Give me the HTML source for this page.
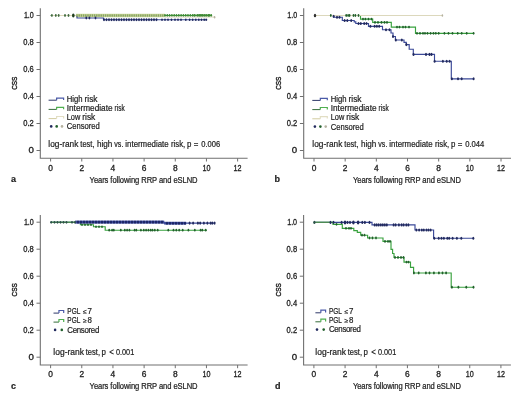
<!DOCTYPE html>
<html><head><meta charset="utf-8"><style>
svg{will-change:transform}
html,body{margin:0;padding:0;background:#fff;width:520px;height:397px;overflow:hidden}
svg text{font-family:"Liberation Sans", sans-serif;stroke:#1e1e1e;stroke-width:0.2px}
svg text.tk{stroke-width:0.3px}
svg text.cs{stroke-width:0.4px}
</style></head><body>
<svg width="520" height="397" viewBox="0 0 520 397" style="position:absolute;left:0;top:0">
<rect width="520" height="397" fill="#ffffff"/>
<g fill="#1e1e1e">
<path d="M40.30 8.20 V158.30 H247.60" fill="none" stroke="#707070" stroke-width="1.1"/>
<line x1="36.50" y1="15.50" x2="40.30" y2="15.50" stroke="#707070" stroke-width="1"/>
<text class="tk" x="23.90" y="18.10" font-size="8.4" textLength="9.9" lengthAdjust="spacingAndGlyphs">1.0</text>
<line x1="36.50" y1="42.50" x2="40.30" y2="42.50" stroke="#707070" stroke-width="1"/>
<text class="tk" x="23.30" y="45.10" font-size="8.4" textLength="10.5" lengthAdjust="spacingAndGlyphs">0.8</text>
<line x1="36.50" y1="69.50" x2="40.30" y2="69.50" stroke="#707070" stroke-width="1"/>
<text class="tk" x="23.30" y="72.10" font-size="8.4" textLength="10.5" lengthAdjust="spacingAndGlyphs">0.6</text>
<line x1="36.50" y1="96.50" x2="40.30" y2="96.50" stroke="#707070" stroke-width="1"/>
<text class="tk" x="23.30" y="99.10" font-size="8.4" textLength="10.5" lengthAdjust="spacingAndGlyphs">0.4</text>
<line x1="36.50" y1="123.50" x2="40.30" y2="123.50" stroke="#707070" stroke-width="1"/>
<text class="tk" x="23.30" y="126.10" font-size="8.4" textLength="10.5" lengthAdjust="spacingAndGlyphs">0.2</text>
<line x1="36.50" y1="150.50" x2="40.30" y2="150.50" stroke="#707070" stroke-width="1"/>
<text class="tk" x="28.40" y="153.10" font-size="8.4" textLength="5.4" lengthAdjust="spacingAndGlyphs">0</text>
<line x1="50.60" y1="158.30" x2="50.60" y2="161.50" stroke="#707070" stroke-width="1"/>
<text class="tk" x="50.60" y="170.70" text-anchor="middle" font-size="8.4">0</text>
<line x1="81.77" y1="158.30" x2="81.77" y2="161.50" stroke="#707070" stroke-width="1"/>
<text class="tk" x="81.77" y="170.70" text-anchor="middle" font-size="8.4">2</text>
<line x1="112.94" y1="158.30" x2="112.94" y2="161.50" stroke="#707070" stroke-width="1"/>
<text class="tk" x="112.94" y="170.70" text-anchor="middle" font-size="8.4">4</text>
<line x1="144.11" y1="158.30" x2="144.11" y2="161.50" stroke="#707070" stroke-width="1"/>
<text class="tk" x="144.11" y="170.70" text-anchor="middle" font-size="8.4">6</text>
<line x1="175.28" y1="158.30" x2="175.28" y2="161.50" stroke="#707070" stroke-width="1"/>
<text class="tk" x="175.28" y="170.70" text-anchor="middle" font-size="8.4">8</text>
<line x1="206.45" y1="158.30" x2="206.45" y2="161.50" stroke="#707070" stroke-width="1"/>
<text class="tk" x="202.45" y="170.70" font-size="8.4" textLength="8.0" lengthAdjust="spacingAndGlyphs">10</text>
<line x1="237.62" y1="158.30" x2="237.62" y2="161.50" stroke="#707070" stroke-width="1"/>
<text class="tk" x="233.62" y="170.70" font-size="8.4" textLength="8.0" lengthAdjust="spacingAndGlyphs">12</text>
<text transform="translate(17.40,89.80) rotate(-90)" class="cs" font-size="8.0" textLength="13.2" lengthAdjust="spacingAndGlyphs">CSS</text>
<text transform="translate(89.60,182.60) scale(1,1.2)" font-size="7.6" textLength="108" lengthAdjust="spacing">Years following RRP and eSLND</text>
<text x="11.00" y="182.30" font-size="9" font-weight="bold">a</text>
<path d="M303.70 8.20 V158.30 H511.00" fill="none" stroke="#707070" stroke-width="1.1"/>
<line x1="299.90" y1="15.50" x2="303.70" y2="15.50" stroke="#707070" stroke-width="1"/>
<text class="tk" x="287.30" y="18.10" font-size="8.4" textLength="9.9" lengthAdjust="spacingAndGlyphs">1.0</text>
<line x1="299.90" y1="42.50" x2="303.70" y2="42.50" stroke="#707070" stroke-width="1"/>
<text class="tk" x="286.70" y="45.10" font-size="8.4" textLength="10.5" lengthAdjust="spacingAndGlyphs">0.8</text>
<line x1="299.90" y1="69.50" x2="303.70" y2="69.50" stroke="#707070" stroke-width="1"/>
<text class="tk" x="286.70" y="72.10" font-size="8.4" textLength="10.5" lengthAdjust="spacingAndGlyphs">0.6</text>
<line x1="299.90" y1="96.50" x2="303.70" y2="96.50" stroke="#707070" stroke-width="1"/>
<text class="tk" x="286.70" y="99.10" font-size="8.4" textLength="10.5" lengthAdjust="spacingAndGlyphs">0.4</text>
<line x1="299.90" y1="123.50" x2="303.70" y2="123.50" stroke="#707070" stroke-width="1"/>
<text class="tk" x="286.70" y="126.10" font-size="8.4" textLength="10.5" lengthAdjust="spacingAndGlyphs">0.2</text>
<line x1="299.90" y1="150.50" x2="303.70" y2="150.50" stroke="#707070" stroke-width="1"/>
<text class="tk" x="291.80" y="153.10" font-size="8.4" textLength="5.4" lengthAdjust="spacingAndGlyphs">0</text>
<line x1="314.00" y1="158.30" x2="314.00" y2="161.50" stroke="#707070" stroke-width="1"/>
<text class="tk" x="314.00" y="170.70" text-anchor="middle" font-size="8.4">0</text>
<line x1="345.17" y1="158.30" x2="345.17" y2="161.50" stroke="#707070" stroke-width="1"/>
<text class="tk" x="345.17" y="170.70" text-anchor="middle" font-size="8.4">2</text>
<line x1="376.34" y1="158.30" x2="376.34" y2="161.50" stroke="#707070" stroke-width="1"/>
<text class="tk" x="376.34" y="170.70" text-anchor="middle" font-size="8.4">4</text>
<line x1="407.51" y1="158.30" x2="407.51" y2="161.50" stroke="#707070" stroke-width="1"/>
<text class="tk" x="407.51" y="170.70" text-anchor="middle" font-size="8.4">6</text>
<line x1="438.68" y1="158.30" x2="438.68" y2="161.50" stroke="#707070" stroke-width="1"/>
<text class="tk" x="438.68" y="170.70" text-anchor="middle" font-size="8.4">8</text>
<line x1="469.85" y1="158.30" x2="469.85" y2="161.50" stroke="#707070" stroke-width="1"/>
<text class="tk" x="465.85" y="170.70" font-size="8.4" textLength="8.0" lengthAdjust="spacingAndGlyphs">10</text>
<line x1="501.02" y1="158.30" x2="501.02" y2="161.50" stroke="#707070" stroke-width="1"/>
<text class="tk" x="497.02" y="170.70" font-size="8.4" textLength="8.0" lengthAdjust="spacingAndGlyphs">12</text>
<text transform="translate(280.80,89.80) rotate(-90)" class="cs" font-size="8.0" textLength="13.2" lengthAdjust="spacingAndGlyphs">CSS</text>
<text transform="translate(353.00,182.60) scale(1,1.2)" font-size="7.6" textLength="108" lengthAdjust="spacing">Years following RRP and eSLND</text>
<text x="274.40" y="182.30" font-size="9" font-weight="bold">b</text>
<path d="M40.30 214.90 V365.00 H247.60" fill="none" stroke="#707070" stroke-width="1.1"/>
<line x1="36.50" y1="222.20" x2="40.30" y2="222.20" stroke="#707070" stroke-width="1"/>
<text class="tk" x="23.90" y="224.80" font-size="8.4" textLength="9.9" lengthAdjust="spacingAndGlyphs">1.0</text>
<line x1="36.50" y1="249.20" x2="40.30" y2="249.20" stroke="#707070" stroke-width="1"/>
<text class="tk" x="23.30" y="251.80" font-size="8.4" textLength="10.5" lengthAdjust="spacingAndGlyphs">0.8</text>
<line x1="36.50" y1="276.20" x2="40.30" y2="276.20" stroke="#707070" stroke-width="1"/>
<text class="tk" x="23.30" y="278.80" font-size="8.4" textLength="10.5" lengthAdjust="spacingAndGlyphs">0.6</text>
<line x1="36.50" y1="303.20" x2="40.30" y2="303.20" stroke="#707070" stroke-width="1"/>
<text class="tk" x="23.30" y="305.80" font-size="8.4" textLength="10.5" lengthAdjust="spacingAndGlyphs">0.4</text>
<line x1="36.50" y1="330.20" x2="40.30" y2="330.20" stroke="#707070" stroke-width="1"/>
<text class="tk" x="23.30" y="332.80" font-size="8.4" textLength="10.5" lengthAdjust="spacingAndGlyphs">0.2</text>
<line x1="36.50" y1="357.20" x2="40.30" y2="357.20" stroke="#707070" stroke-width="1"/>
<text class="tk" x="28.40" y="359.80" font-size="8.4" textLength="5.4" lengthAdjust="spacingAndGlyphs">0</text>
<line x1="50.60" y1="365.00" x2="50.60" y2="368.20" stroke="#707070" stroke-width="1"/>
<text class="tk" x="50.60" y="377.40" text-anchor="middle" font-size="8.4">0</text>
<line x1="81.77" y1="365.00" x2="81.77" y2="368.20" stroke="#707070" stroke-width="1"/>
<text class="tk" x="81.77" y="377.40" text-anchor="middle" font-size="8.4">2</text>
<line x1="112.94" y1="365.00" x2="112.94" y2="368.20" stroke="#707070" stroke-width="1"/>
<text class="tk" x="112.94" y="377.40" text-anchor="middle" font-size="8.4">4</text>
<line x1="144.11" y1="365.00" x2="144.11" y2="368.20" stroke="#707070" stroke-width="1"/>
<text class="tk" x="144.11" y="377.40" text-anchor="middle" font-size="8.4">6</text>
<line x1="175.28" y1="365.00" x2="175.28" y2="368.20" stroke="#707070" stroke-width="1"/>
<text class="tk" x="175.28" y="377.40" text-anchor="middle" font-size="8.4">8</text>
<line x1="206.45" y1="365.00" x2="206.45" y2="368.20" stroke="#707070" stroke-width="1"/>
<text class="tk" x="202.45" y="377.40" font-size="8.4" textLength="8.0" lengthAdjust="spacingAndGlyphs">10</text>
<line x1="237.62" y1="365.00" x2="237.62" y2="368.20" stroke="#707070" stroke-width="1"/>
<text class="tk" x="233.62" y="377.40" font-size="8.4" textLength="8.0" lengthAdjust="spacingAndGlyphs">12</text>
<text transform="translate(17.40,296.50) rotate(-90)" class="cs" font-size="8.0" textLength="13.2" lengthAdjust="spacingAndGlyphs">CSS</text>
<text transform="translate(89.60,389.30) scale(1,1.2)" font-size="7.6" textLength="108" lengthAdjust="spacing">Years following RRP and eSLND</text>
<text x="11.00" y="389.00" font-size="9" font-weight="bold">c</text>
<path d="M303.60 214.90 V365.00 H510.90" fill="none" stroke="#707070" stroke-width="1.1"/>
<line x1="299.80" y1="222.20" x2="303.60" y2="222.20" stroke="#707070" stroke-width="1"/>
<text class="tk" x="287.20" y="224.80" font-size="8.4" textLength="9.9" lengthAdjust="spacingAndGlyphs">1.0</text>
<line x1="299.80" y1="249.20" x2="303.60" y2="249.20" stroke="#707070" stroke-width="1"/>
<text class="tk" x="286.60" y="251.80" font-size="8.4" textLength="10.5" lengthAdjust="spacingAndGlyphs">0.8</text>
<line x1="299.80" y1="276.20" x2="303.60" y2="276.20" stroke="#707070" stroke-width="1"/>
<text class="tk" x="286.60" y="278.80" font-size="8.4" textLength="10.5" lengthAdjust="spacingAndGlyphs">0.6</text>
<line x1="299.80" y1="303.20" x2="303.60" y2="303.20" stroke="#707070" stroke-width="1"/>
<text class="tk" x="286.60" y="305.80" font-size="8.4" textLength="10.5" lengthAdjust="spacingAndGlyphs">0.4</text>
<line x1="299.80" y1="330.20" x2="303.60" y2="330.20" stroke="#707070" stroke-width="1"/>
<text class="tk" x="286.60" y="332.80" font-size="8.4" textLength="10.5" lengthAdjust="spacingAndGlyphs">0.2</text>
<line x1="299.80" y1="357.20" x2="303.60" y2="357.20" stroke="#707070" stroke-width="1"/>
<text class="tk" x="291.70" y="359.80" font-size="8.4" textLength="5.4" lengthAdjust="spacingAndGlyphs">0</text>
<line x1="313.90" y1="365.00" x2="313.90" y2="368.20" stroke="#707070" stroke-width="1"/>
<text class="tk" x="313.90" y="377.40" text-anchor="middle" font-size="8.4">0</text>
<line x1="345.07" y1="365.00" x2="345.07" y2="368.20" stroke="#707070" stroke-width="1"/>
<text class="tk" x="345.07" y="377.40" text-anchor="middle" font-size="8.4">2</text>
<line x1="376.24" y1="365.00" x2="376.24" y2="368.20" stroke="#707070" stroke-width="1"/>
<text class="tk" x="376.24" y="377.40" text-anchor="middle" font-size="8.4">4</text>
<line x1="407.41" y1="365.00" x2="407.41" y2="368.20" stroke="#707070" stroke-width="1"/>
<text class="tk" x="407.41" y="377.40" text-anchor="middle" font-size="8.4">6</text>
<line x1="438.58" y1="365.00" x2="438.58" y2="368.20" stroke="#707070" stroke-width="1"/>
<text class="tk" x="438.58" y="377.40" text-anchor="middle" font-size="8.4">8</text>
<line x1="469.75" y1="365.00" x2="469.75" y2="368.20" stroke="#707070" stroke-width="1"/>
<text class="tk" x="465.75" y="377.40" font-size="8.4" textLength="8.0" lengthAdjust="spacingAndGlyphs">10</text>
<line x1="500.92" y1="365.00" x2="500.92" y2="368.20" stroke="#707070" stroke-width="1"/>
<text class="tk" x="496.92" y="377.40" font-size="8.4" textLength="8.0" lengthAdjust="spacingAndGlyphs">12</text>
<text transform="translate(280.70,296.50) rotate(-90)" class="cs" font-size="8.0" textLength="13.2" lengthAdjust="spacingAndGlyphs">CSS</text>
<text transform="translate(352.90,389.30) scale(1,1.2)" font-size="7.6" textLength="108" lengthAdjust="spacing">Years following RRP and eSLND</text>
<text x="275.10" y="389.00" font-size="9" font-weight="bold">d</text>
<path d="M48.60 100.20 H56.62" stroke="#2e3868" stroke-width="1" fill="none"/><path d="M56.62 100.20 V98.10 H63.60 V100.00" stroke="#4a5aa8" stroke-width="1.2" fill="none"/>
<text transform="translate(66.75,101.80) scale(1,1.05)" font-size="7.9" textLength="15.8" lengthAdjust="spacingAndGlyphs">High</text>
<text transform="translate(84.55,101.80) scale(1,1.05)" font-size="7.9" textLength="13.0" lengthAdjust="spacingAndGlyphs">risk</text>
<path d="M48.60 109.40 H56.62" stroke="#356b3a" stroke-width="1" fill="none"/><path d="M56.62 109.40 V107.30 H63.60 V109.20" stroke="#4fb04f" stroke-width="1.2" fill="none"/>
<text transform="translate(66.75,111.00) scale(1,1.05)" font-size="7.9" textLength="45.8" lengthAdjust="spacingAndGlyphs">Intermediate</text>
<text transform="translate(114.55,111.00) scale(1,1.05)" font-size="7.9" textLength="10.1" lengthAdjust="spacingAndGlyphs">risk</text>
<path d="M48.60 118.60 H56.62" stroke="#d2cca0" stroke-width="1" fill="none"/><path d="M56.62 118.60 V116.50 H63.60 V118.40" stroke="#e2dec4" stroke-width="1.2" fill="none"/>
<text transform="translate(66.75,120.20) scale(1,1.05)" font-size="7.9" textLength="13.5" lengthAdjust="spacingAndGlyphs">Low</text>
<text transform="translate(82.25,120.20) scale(1,1.05)" font-size="7.9" textLength="13.0" lengthAdjust="spacingAndGlyphs">risk</text>
<circle cx="51.20" cy="126.40" r="1.3" fill="#222a5e"/>
<circle cx="56.70" cy="126.40" r="1.3" fill="#22602c"/>
<circle cx="62.00" cy="126.40" r="1.3" fill="#b5b2a0"/>
<text transform="translate(66.75,129.40) scale(1,1.05)" font-size="7.9" textLength="33.1" lengthAdjust="spacingAndGlyphs">Censored</text>
<path d="M312.30 100.40 H320.32" stroke="#2e3868" stroke-width="1" fill="none"/><path d="M320.32 100.40 V98.30 H327.30 V100.20" stroke="#4a5aa8" stroke-width="1.2" fill="none"/>
<text transform="translate(330.75,102.00) scale(1,1.05)" font-size="7.9" textLength="15.8" lengthAdjust="spacingAndGlyphs">High</text>
<text transform="translate(348.55,102.00) scale(1,1.05)" font-size="7.9" textLength="13.0" lengthAdjust="spacingAndGlyphs">risk</text>
<path d="M312.30 109.60 H320.32" stroke="#356b3a" stroke-width="1" fill="none"/><path d="M320.32 109.60 V107.50 H327.30 V109.40" stroke="#4fb04f" stroke-width="1.2" fill="none"/>
<text transform="translate(330.75,111.20) scale(1,1.05)" font-size="7.9" textLength="45.8" lengthAdjust="spacingAndGlyphs">Intermediate</text>
<text transform="translate(378.55,111.20) scale(1,1.05)" font-size="7.9" textLength="10.1" lengthAdjust="spacingAndGlyphs">risk</text>
<path d="M312.30 118.80 H320.32" stroke="#d2cca0" stroke-width="1" fill="none"/><path d="M320.32 118.80 V116.70 H327.30 V118.60" stroke="#e2dec4" stroke-width="1.2" fill="none"/>
<text transform="translate(330.75,120.40) scale(1,1.05)" font-size="7.9" textLength="13.5" lengthAdjust="spacingAndGlyphs">Low</text>
<text transform="translate(346.25,120.40) scale(1,1.05)" font-size="7.9" textLength="13.0" lengthAdjust="spacingAndGlyphs">risk</text>
<circle cx="314.90" cy="126.60" r="1.3" fill="#222a5e"/>
<circle cx="320.40" cy="126.60" r="1.3" fill="#22602c"/>
<circle cx="325.70" cy="126.60" r="1.3" fill="#b5b2a0"/>
<text transform="translate(330.75,129.60) scale(1,1.05)" font-size="7.9" textLength="33.1" lengthAdjust="spacingAndGlyphs">Censored</text>
<text transform="translate(48.35,146.90) scale(1,1.05)" font-size="7.9" textLength="30.0" lengthAdjust="spacingAndGlyphs">log-rank</text>
<text transform="translate(80.35,146.90) scale(1,1.05)" font-size="7.9" textLength="14.1" lengthAdjust="spacingAndGlyphs">test,</text>
<text transform="translate(97.05,146.90) scale(1,1.05)" font-size="7.9" textLength="15.3" lengthAdjust="spacingAndGlyphs">high</text>
<text transform="translate(114.35,146.90) scale(1,1.05)" font-size="7.9" textLength="9.0" lengthAdjust="spacingAndGlyphs">vs.</text>
<text transform="translate(125.35,146.90) scale(1,1.05)" font-size="7.9" textLength="43.2" lengthAdjust="spacingAndGlyphs">intermediate</text>
<text transform="translate(170.95,146.90) scale(1,1.05)" font-size="7.9" textLength="14.3" lengthAdjust="spacingAndGlyphs">risk,</text>
<text transform="translate(187.05,146.90) scale(1,1.05)" font-size="7.9">p</text>
<text transform="translate(193.85,146.90) scale(1,1.05)" font-size="7.9">=</text>
<text transform="translate(201.25,146.90) scale(1,1.05)" font-size="7.9" textLength="18.9" lengthAdjust="spacingAndGlyphs">0.006</text>
<text transform="translate(312.35,146.90) scale(1,1.05)" font-size="7.9" textLength="30.0" lengthAdjust="spacingAndGlyphs">log-rank</text>
<text transform="translate(344.35,146.90) scale(1,1.05)" font-size="7.9" textLength="14.1" lengthAdjust="spacingAndGlyphs">test,</text>
<text transform="translate(361.05,146.90) scale(1,1.05)" font-size="7.9" textLength="15.3" lengthAdjust="spacingAndGlyphs">high</text>
<text transform="translate(378.35,146.90) scale(1,1.05)" font-size="7.9" textLength="9.0" lengthAdjust="spacingAndGlyphs">vs.</text>
<text transform="translate(389.35,146.90) scale(1,1.05)" font-size="7.9" textLength="43.2" lengthAdjust="spacingAndGlyphs">intermediate</text>
<text transform="translate(434.95,146.90) scale(1,1.05)" font-size="7.9" textLength="14.3" lengthAdjust="spacingAndGlyphs">risk,</text>
<text transform="translate(451.05,146.90) scale(1,1.05)" font-size="7.9">p</text>
<text transform="translate(457.85,146.90) scale(1,1.05)" font-size="7.9">=</text>
<text transform="translate(465.25,146.90) scale(1,1.05)" font-size="7.9" textLength="19.1" lengthAdjust="spacingAndGlyphs">0.044</text>
<path d="M53.50 313.10 H58.96" stroke="#2e3868" stroke-width="1" fill="none"/><path d="M58.96 313.10 V310.50 H63.70 V312.90" stroke="#4a5aa8" stroke-width="1.2" fill="none"/>
<text transform="translate(67.30,314.40) scale(1,1.05)" font-size="7.9" textLength="13.0" lengthAdjust="spacingAndGlyphs">PGL</text>
<text transform="translate(82.90,314.40) scale(1,1.0)" font-size="6.8">≤</text>
<text transform="translate(87.50,314.40) scale(1,1.05)" font-size="7.9">7</text>
<path d="M53.50 322.10 H58.96" stroke="#356b3a" stroke-width="1" fill="none"/><path d="M58.96 322.10 V319.50 H63.70 V321.90" stroke="#4fb04f" stroke-width="1.2" fill="none"/>
<text transform="translate(67.30,323.40) scale(1,1.05)" font-size="7.9" textLength="13.0" lengthAdjust="spacingAndGlyphs">PGL</text>
<text transform="translate(82.90,323.40) scale(1,1.0)" font-size="6.8">≥</text>
<text transform="translate(87.50,323.40) scale(1,1.05)" font-size="7.9">8</text>
<circle cx="55.10" cy="329.90" r="1.3" fill="#222a5e"/>
<circle cx="61.80" cy="329.90" r="1.3" fill="#22602c"/>
<text transform="translate(67.30,332.50) scale(1,1.05)" font-size="7.9" textLength="32.0" lengthAdjust="spacing">Censored</text>
<text transform="translate(53.35,355.20) scale(1,1.05)" font-size="7.9" textLength="30.6" lengthAdjust="spacingAndGlyphs">log-rank</text>
<text transform="translate(85.75,355.20) scale(1,1.05)" font-size="7.9" textLength="14.3" lengthAdjust="spacingAndGlyphs">test,</text>
<text transform="translate(101.55,355.20) scale(1,1.05)" font-size="7.9">p</text>
<text transform="translate(109.25,355.20) scale(1,1.05)" font-size="7.9">&lt;</text>
<text transform="translate(115.95,355.20) scale(1,1.05)" font-size="7.9" textLength="18.3" lengthAdjust="spacingAndGlyphs">0.001</text>
<path d="M315.40 312.80 H320.86" stroke="#2e3868" stroke-width="1" fill="none"/><path d="M320.86 312.80 V310.20 H325.60 V312.60" stroke="#4a5aa8" stroke-width="1.2" fill="none"/>
<text transform="translate(328.90,314.10) scale(1,1.05)" font-size="7.9" textLength="13.0" lengthAdjust="spacingAndGlyphs">PGL</text>
<text transform="translate(344.50,314.10) scale(1,1.0)" font-size="6.8">≤</text>
<text transform="translate(349.10,314.10) scale(1,1.05)" font-size="7.9">7</text>
<path d="M315.40 321.80 H320.86" stroke="#356b3a" stroke-width="1" fill="none"/><path d="M320.86 321.80 V319.20 H325.60 V321.60" stroke="#4fb04f" stroke-width="1.2" fill="none"/>
<text transform="translate(328.90,323.10) scale(1,1.05)" font-size="7.9" textLength="13.0" lengthAdjust="spacingAndGlyphs">PGL</text>
<text transform="translate(344.50,323.10) scale(1,1.0)" font-size="6.8">≥</text>
<text transform="translate(349.10,323.10) scale(1,1.05)" font-size="7.9">8</text>
<circle cx="317.00" cy="329.60" r="1.3" fill="#222a5e"/>
<circle cx="323.70" cy="329.60" r="1.3" fill="#22602c"/>
<text transform="translate(328.90,332.20) scale(1,1.05)" font-size="7.9" textLength="32.0" lengthAdjust="spacing">Censored</text>
<text transform="translate(315.35,355.20) scale(1,1.05)" font-size="7.9" textLength="30.6" lengthAdjust="spacingAndGlyphs">log-rank</text>
<text transform="translate(347.75,355.20) scale(1,1.05)" font-size="7.9" textLength="14.3" lengthAdjust="spacingAndGlyphs">test,</text>
<text transform="translate(363.55,355.20) scale(1,1.05)" font-size="7.9">p</text>
<text transform="translate(371.25,355.20) scale(1,1.05)" font-size="7.9">&lt;</text>
<text transform="translate(377.95,355.20) scale(1,1.05)" font-size="7.9" textLength="18.3" lengthAdjust="spacingAndGlyphs">0.001</text>
</g>
<rect x="76" y="13.8" width="89" height="3.4" fill="#c3d290" opacity="0.95"/>
<path d="M50.60 15.50 H77.00 V18.00 H103.50 V19.70 H207.30 V19.70" fill="none" stroke="#3a4898" stroke-width="1.15"/>
<path d="M50.60 15.50 H211.50 V15.50" fill="none" stroke="#39a23f" stroke-width="1.1"/>
<path d="M50.60 15.50 H165.00 V15.50" fill="none" stroke="#dcd8bc" stroke-width="1.2"/>
<path d="M165.00 17.00 H215.00 V17.00" fill="none" stroke="#dcd8bc" stroke-width="1.2"/>
<path d="M314.30 15.50 H333.50 V17.20 H342.30 V20.50 H354.20 V21.80 H355.80 V23.50 H368.50 V26.30 H382.50 V29.70 H391.00 V33.00 H393.00 V36.50 H395.40 V40.00 H404.00 V42.30 H406.30 V44.60 H409.20 V49.20 H413.30 V54.40 H434.50 V61.20 H451.30 V78.80 H473.60 V78.80" fill="none" stroke="#3a4898" stroke-width="1.15"/>
<path d="M314.30 15.50 H360.50 V19.10 H372.70 V22.40 H391.30 V27.10 H415.50 V33.30 H473.80 V33.30" fill="none" stroke="#39a23f" stroke-width="1.15"/>
<path d="M314.30 15.50 H442.40 V15.50" fill="none" stroke="#dcd8bc" stroke-width="1.2"/>
<path d="M50.60 222.30 H164.20 V223.10 H215.00 V223.10" fill="none" stroke="#3a4898" stroke-width="1.15"/>
<path d="M50.60 222.30 H80.40 V224.70 H93.50 V226.70 H105.20 V230.20 H207.00 V230.20" fill="none" stroke="#39a23f" stroke-width="1.15"/>
<rect x="75" y="220.6" width="89.2" height="3.0" fill="#3a4898"/>
<rect x="164.2" y="221.8" width="22" height="2.8" fill="#3a4898"/>
<path d="M50.6 222.3 H76" stroke="#4f8a55" stroke-width="1.1" fill="none"/>
<path d="M313.80 222.40 H372.00 V224.90 H415.00 V230.00 H433.60 V238.20 H473.60 V238.20" fill="none" stroke="#3a4898" stroke-width="1.15"/>
<path d="M313.80 222.40 H333.00 V224.30 H342.30 V228.30 H353.80 V230.60 H357.30 V232.30 H360.70 V235.20 H367.60 V238.00 H383.00 V241.40 H391.00 V249.40 H392.60 V253.50 H394.00 V257.50 H404.00 V262.10 H410.50 V267.30 H413.60 V273.00 H451.20 V287.20 H473.60 V287.20" fill="none" stroke="#39a23f" stroke-width="1.15"/>
<path d="M313.8 222.4 H331" stroke="#4f8a55" stroke-width="1.1" fill="none"/>
<ellipse cx="51.90" cy="15.50" rx="0.9" ry="1.40" fill="#3f6a3f"/><ellipse cx="55.80" cy="15.50" rx="0.9" ry="1.40" fill="#3f6a3f"/><ellipse cx="58.70" cy="15.50" rx="0.9" ry="1.40" fill="#3f6a3f"/><ellipse cx="65.00" cy="15.50" rx="0.9" ry="1.40" fill="#3f6a3f"/><ellipse cx="68.50" cy="15.50" rx="0.9" ry="1.40" fill="#3f6a3f"/>
<ellipse cx="73.30" cy="15.50" rx="1.3" ry="2.02" fill="#1e3d1e"/>
<ellipse cx="77.00" cy="15.50" rx="0.8" ry="1.24" fill="#86a55e"/><ellipse cx="79.20" cy="15.50" rx="0.8" ry="1.24" fill="#86a55e"/><ellipse cx="81.40" cy="15.50" rx="0.8" ry="1.24" fill="#86a55e"/><ellipse cx="83.60" cy="15.50" rx="0.8" ry="1.24" fill="#86a55e"/><ellipse cx="85.80" cy="15.50" rx="0.8" ry="1.24" fill="#86a55e"/><ellipse cx="88.00" cy="15.50" rx="0.8" ry="1.24" fill="#86a55e"/><ellipse cx="90.20" cy="15.50" rx="0.8" ry="1.24" fill="#86a55e"/><ellipse cx="92.40" cy="15.50" rx="0.8" ry="1.24" fill="#86a55e"/><ellipse cx="94.60" cy="15.50" rx="0.8" ry="1.24" fill="#86a55e"/><ellipse cx="96.80" cy="15.50" rx="0.8" ry="1.24" fill="#86a55e"/><ellipse cx="99.00" cy="15.50" rx="0.8" ry="1.24" fill="#86a55e"/><ellipse cx="101.20" cy="15.50" rx="0.8" ry="1.24" fill="#86a55e"/><ellipse cx="103.40" cy="15.50" rx="0.8" ry="1.24" fill="#86a55e"/><ellipse cx="105.60" cy="15.50" rx="0.8" ry="1.24" fill="#86a55e"/><ellipse cx="107.80" cy="15.50" rx="0.8" ry="1.24" fill="#86a55e"/><ellipse cx="110.00" cy="15.50" rx="0.8" ry="1.24" fill="#86a55e"/><ellipse cx="112.20" cy="15.50" rx="0.8" ry="1.24" fill="#86a55e"/><ellipse cx="114.40" cy="15.50" rx="0.8" ry="1.24" fill="#86a55e"/><ellipse cx="116.60" cy="15.50" rx="0.8" ry="1.24" fill="#86a55e"/><ellipse cx="118.80" cy="15.50" rx="0.8" ry="1.24" fill="#86a55e"/><ellipse cx="121.00" cy="15.50" rx="0.8" ry="1.24" fill="#86a55e"/><ellipse cx="123.20" cy="15.50" rx="0.8" ry="1.24" fill="#86a55e"/><ellipse cx="125.40" cy="15.50" rx="0.8" ry="1.24" fill="#86a55e"/><ellipse cx="127.60" cy="15.50" rx="0.8" ry="1.24" fill="#86a55e"/><ellipse cx="129.80" cy="15.50" rx="0.8" ry="1.24" fill="#86a55e"/><ellipse cx="132.00" cy="15.50" rx="0.8" ry="1.24" fill="#86a55e"/><ellipse cx="134.20" cy="15.50" rx="0.8" ry="1.24" fill="#86a55e"/><ellipse cx="136.40" cy="15.50" rx="0.8" ry="1.24" fill="#86a55e"/><ellipse cx="138.60" cy="15.50" rx="0.8" ry="1.24" fill="#86a55e"/><ellipse cx="140.80" cy="15.50" rx="0.8" ry="1.24" fill="#86a55e"/><ellipse cx="143.00" cy="15.50" rx="0.8" ry="1.24" fill="#86a55e"/><ellipse cx="145.20" cy="15.50" rx="0.8" ry="1.24" fill="#86a55e"/><ellipse cx="147.40" cy="15.50" rx="0.8" ry="1.24" fill="#86a55e"/><ellipse cx="149.60" cy="15.50" rx="0.8" ry="1.24" fill="#86a55e"/><ellipse cx="151.80" cy="15.50" rx="0.8" ry="1.24" fill="#86a55e"/><ellipse cx="154.00" cy="15.50" rx="0.8" ry="1.24" fill="#86a55e"/><ellipse cx="156.20" cy="15.50" rx="0.8" ry="1.24" fill="#86a55e"/><ellipse cx="158.40" cy="15.50" rx="0.8" ry="1.24" fill="#86a55e"/><ellipse cx="160.60" cy="15.50" rx="0.8" ry="1.24" fill="#86a55e"/><ellipse cx="162.80" cy="15.50" rx="0.8" ry="1.24" fill="#86a55e"/>
<ellipse cx="165.00" cy="15.30" rx="0.9" ry="1.40" fill="#3f8a35"/><ellipse cx="167.30" cy="15.30" rx="0.9" ry="1.40" fill="#3f8a35"/><ellipse cx="169.60" cy="15.30" rx="0.9" ry="1.40" fill="#3f8a35"/><ellipse cx="171.90" cy="15.30" rx="0.9" ry="1.40" fill="#3f8a35"/><ellipse cx="174.20" cy="15.30" rx="0.9" ry="1.40" fill="#3f8a35"/><ellipse cx="176.50" cy="15.30" rx="0.9" ry="1.40" fill="#3f8a35"/><ellipse cx="178.80" cy="15.30" rx="0.9" ry="1.40" fill="#3f8a35"/><ellipse cx="181.10" cy="15.30" rx="0.9" ry="1.40" fill="#3f8a35"/><ellipse cx="183.40" cy="15.30" rx="0.9" ry="1.40" fill="#3f8a35"/><ellipse cx="185.70" cy="15.30" rx="0.9" ry="1.40" fill="#3f8a35"/><ellipse cx="188.00" cy="15.30" rx="0.9" ry="1.40" fill="#3f8a35"/><ellipse cx="190.30" cy="15.30" rx="0.9" ry="1.40" fill="#3f8a35"/><ellipse cx="192.60" cy="15.30" rx="0.9" ry="1.40" fill="#3f8a35"/><ellipse cx="194.90" cy="15.30" rx="0.9" ry="1.40" fill="#3f8a35"/><ellipse cx="197.20" cy="15.30" rx="0.9" ry="1.40" fill="#3f8a35"/><ellipse cx="199.50" cy="15.30" rx="0.9" ry="1.40" fill="#3f8a35"/><ellipse cx="201.80" cy="15.30" rx="0.9" ry="1.40" fill="#3f8a35"/><ellipse cx="204.10" cy="15.30" rx="0.9" ry="1.40" fill="#3f8a35"/><ellipse cx="206.40" cy="15.30" rx="0.9" ry="1.40" fill="#3f8a35"/><ellipse cx="208.70" cy="15.30" rx="0.9" ry="1.40" fill="#3f8a35"/><ellipse cx="194.20" cy="15.30" rx="0.9" ry="1.40" fill="#3f8a35"/><ellipse cx="198.10" cy="15.30" rx="0.9" ry="1.40" fill="#3f8a35"/><ellipse cx="200.40" cy="15.30" rx="0.9" ry="1.40" fill="#3f8a35"/><ellipse cx="202.70" cy="15.30" rx="0.9" ry="1.40" fill="#3f8a35"/><ellipse cx="205.00" cy="15.30" rx="0.9" ry="1.40" fill="#3f8a35"/><ellipse cx="208.10" cy="15.30" rx="0.9" ry="1.40" fill="#3f8a35"/><ellipse cx="209.60" cy="15.30" rx="0.9" ry="1.40" fill="#3f8a35"/><ellipse cx="211.20" cy="15.30" rx="0.9" ry="1.40" fill="#3f8a35"/>
<ellipse cx="214.60" cy="17.30" rx="0.8" ry="1.24" fill="#b5b2a0"/>
<ellipse cx="86.30" cy="18.00" rx="0.9" ry="1.40" fill="#222a5e"/><ellipse cx="89.40" cy="18.00" rx="0.9" ry="1.40" fill="#222a5e"/><ellipse cx="95.50" cy="18.00" rx="0.9" ry="1.40" fill="#222a5e"/>
<ellipse cx="104.00" cy="19.70" rx="0.95" ry="1.47" fill="#222a5e"/><ellipse cx="106.50" cy="19.70" rx="0.95" ry="1.47" fill="#222a5e"/><ellipse cx="109.00" cy="19.70" rx="0.95" ry="1.47" fill="#222a5e"/><ellipse cx="111.50" cy="19.70" rx="0.95" ry="1.47" fill="#222a5e"/><ellipse cx="114.00" cy="19.70" rx="0.95" ry="1.47" fill="#222a5e"/><ellipse cx="116.50" cy="19.70" rx="0.95" ry="1.47" fill="#222a5e"/><ellipse cx="119.00" cy="19.70" rx="0.95" ry="1.47" fill="#222a5e"/><ellipse cx="121.50" cy="19.70" rx="0.95" ry="1.47" fill="#222a5e"/><ellipse cx="124.00" cy="19.70" rx="0.95" ry="1.47" fill="#222a5e"/><ellipse cx="126.50" cy="19.70" rx="0.95" ry="1.47" fill="#222a5e"/><ellipse cx="129.00" cy="19.70" rx="0.95" ry="1.47" fill="#222a5e"/><ellipse cx="131.50" cy="19.70" rx="0.95" ry="1.47" fill="#222a5e"/><ellipse cx="134.00" cy="19.70" rx="0.95" ry="1.47" fill="#222a5e"/><ellipse cx="136.50" cy="19.70" rx="0.95" ry="1.47" fill="#222a5e"/><ellipse cx="139.00" cy="19.70" rx="0.95" ry="1.47" fill="#222a5e"/><ellipse cx="141.50" cy="19.70" rx="0.95" ry="1.47" fill="#222a5e"/><ellipse cx="144.00" cy="19.70" rx="0.95" ry="1.47" fill="#222a5e"/><ellipse cx="146.50" cy="19.70" rx="0.95" ry="1.47" fill="#222a5e"/><ellipse cx="149.00" cy="19.70" rx="0.95" ry="1.47" fill="#222a5e"/><ellipse cx="151.50" cy="19.70" rx="0.95" ry="1.47" fill="#222a5e"/><ellipse cx="154.00" cy="19.70" rx="0.95" ry="1.47" fill="#222a5e"/><ellipse cx="156.50" cy="19.70" rx="0.95" ry="1.47" fill="#222a5e"/>
<ellipse cx="162.00" cy="19.70" rx="0.85" ry="1.32" fill="#222a5e"/><ellipse cx="165.00" cy="19.70" rx="0.85" ry="1.32" fill="#222a5e"/><ellipse cx="168.00" cy="19.70" rx="0.85" ry="1.32" fill="#222a5e"/><ellipse cx="171.50" cy="19.70" rx="0.85" ry="1.32" fill="#222a5e"/><ellipse cx="175.00" cy="19.70" rx="0.85" ry="1.32" fill="#222a5e"/><ellipse cx="178.00" cy="19.70" rx="0.85" ry="1.32" fill="#222a5e"/><ellipse cx="181.00" cy="19.70" rx="0.85" ry="1.32" fill="#222a5e"/><ellipse cx="185.80" cy="19.70" rx="0.85" ry="1.32" fill="#222a5e"/><ellipse cx="189.60" cy="19.70" rx="0.85" ry="1.32" fill="#222a5e"/><ellipse cx="192.70" cy="19.70" rx="0.85" ry="1.32" fill="#222a5e"/><ellipse cx="195.80" cy="19.70" rx="0.85" ry="1.32" fill="#222a5e"/><ellipse cx="198.80" cy="19.70" rx="0.85" ry="1.32" fill="#222a5e"/><ellipse cx="201.50" cy="19.70" rx="0.85" ry="1.32" fill="#222a5e"/><ellipse cx="204.20" cy="19.70" rx="0.85" ry="1.32" fill="#222a5e"/><ellipse cx="206.20" cy="19.70" rx="0.85" ry="1.32" fill="#222a5e"/>
<ellipse cx="315.00" cy="15.50" rx="1.2" ry="1.86" fill="#333"/>
<ellipse cx="330.80" cy="15.50" rx="0.9" ry="1.40" fill="#22602c"/><ellipse cx="346.20" cy="15.50" rx="0.9" ry="1.40" fill="#22602c"/><ellipse cx="348.10" cy="15.50" rx="0.9" ry="1.40" fill="#22602c"/><ellipse cx="349.60" cy="15.50" rx="0.9" ry="1.40" fill="#22602c"/><ellipse cx="353.50" cy="15.50" rx="0.9" ry="1.40" fill="#22602c"/><ellipse cx="355.40" cy="15.50" rx="0.9" ry="1.40" fill="#22602c"/><ellipse cx="358.50" cy="15.50" rx="0.9" ry="1.40" fill="#22602c"/>
<ellipse cx="363.00" cy="19.10" rx="0.9" ry="1.40" fill="#22602c"/><ellipse cx="365.40" cy="19.10" rx="0.9" ry="1.40" fill="#22602c"/><ellipse cx="368.50" cy="19.10" rx="0.9" ry="1.40" fill="#22602c"/><ellipse cx="371.50" cy="19.10" rx="0.9" ry="1.40" fill="#22602c"/>
<ellipse cx="375.00" cy="22.40" rx="0.9" ry="1.40" fill="#22602c"/><ellipse cx="378.00" cy="22.40" rx="0.9" ry="1.40" fill="#22602c"/><ellipse cx="381.50" cy="22.40" rx="0.9" ry="1.40" fill="#22602c"/><ellipse cx="384.50" cy="22.40" rx="0.9" ry="1.40" fill="#22602c"/><ellipse cx="387.00" cy="22.40" rx="0.9" ry="1.40" fill="#22602c"/>
<ellipse cx="397.00" cy="27.10" rx="0.9" ry="1.40" fill="#22602c"/><ellipse cx="399.50" cy="27.10" rx="0.9" ry="1.40" fill="#22602c"/><ellipse cx="403.00" cy="27.10" rx="0.9" ry="1.40" fill="#22602c"/><ellipse cx="405.50" cy="27.10" rx="0.9" ry="1.40" fill="#22602c"/><ellipse cx="409.00" cy="27.10" rx="0.9" ry="1.40" fill="#22602c"/>
<ellipse cx="417.00" cy="33.30" rx="0.9" ry="1.40" fill="#22602c"/><ellipse cx="420.00" cy="33.30" rx="0.9" ry="1.40" fill="#22602c"/><ellipse cx="423.00" cy="33.30" rx="0.9" ry="1.40" fill="#22602c"/><ellipse cx="425.00" cy="33.30" rx="0.9" ry="1.40" fill="#22602c"/><ellipse cx="427.50" cy="33.30" rx="0.9" ry="1.40" fill="#22602c"/><ellipse cx="430.60" cy="33.30" rx="0.9" ry="1.40" fill="#22602c"/><ellipse cx="433.50" cy="33.30" rx="0.9" ry="1.40" fill="#22602c"/><ellipse cx="435.80" cy="33.30" rx="0.9" ry="1.40" fill="#22602c"/><ellipse cx="438.70" cy="33.30" rx="0.9" ry="1.40" fill="#22602c"/><ellipse cx="444.40" cy="33.30" rx="0.9" ry="1.40" fill="#22602c"/><ellipse cx="448.50" cy="33.30" rx="0.9" ry="1.40" fill="#22602c"/><ellipse cx="452.50" cy="33.30" rx="0.9" ry="1.40" fill="#22602c"/><ellipse cx="457.70" cy="33.30" rx="0.9" ry="1.40" fill="#22602c"/><ellipse cx="461.70" cy="33.30" rx="0.9" ry="1.40" fill="#22602c"/><ellipse cx="466.70" cy="33.30" rx="0.9" ry="1.40" fill="#22602c"/><ellipse cx="473.60" cy="33.30" rx="0.9" ry="1.40" fill="#22602c"/>
<ellipse cx="333.70" cy="16.30" rx="1.0" ry="1.55" fill="#222a5e"/>
<ellipse cx="337.00" cy="17.20" rx="1.0" ry="1.55" fill="#222a5e"/><ellipse cx="339.50" cy="17.20" rx="1.0" ry="1.55" fill="#222a5e"/>
<ellipse cx="344.60" cy="20.50" rx="1.0" ry="1.55" fill="#222a5e"/><ellipse cx="347.30" cy="20.50" rx="1.0" ry="1.55" fill="#222a5e"/><ellipse cx="351.20" cy="20.50" rx="1.0" ry="1.55" fill="#222a5e"/>
<ellipse cx="358.50" cy="23.50" rx="1.0" ry="1.55" fill="#222a5e"/><ellipse cx="360.80" cy="23.50" rx="1.0" ry="1.55" fill="#222a5e"/><ellipse cx="364.20" cy="23.50" rx="1.0" ry="1.55" fill="#222a5e"/><ellipse cx="366.50" cy="23.50" rx="1.0" ry="1.55" fill="#222a5e"/>
<ellipse cx="370.40" cy="26.30" rx="1.0" ry="1.55" fill="#222a5e"/><ellipse cx="374.60" cy="26.30" rx="1.0" ry="1.55" fill="#222a5e"/><ellipse cx="376.90" cy="26.30" rx="1.0" ry="1.55" fill="#222a5e"/><ellipse cx="379.20" cy="26.30" rx="1.0" ry="1.55" fill="#222a5e"/>
<ellipse cx="386.00" cy="29.70" rx="1.0" ry="1.55" fill="#222a5e"/><ellipse cx="389.50" cy="29.70" rx="1.0" ry="1.55" fill="#222a5e"/>
<ellipse cx="393.00" cy="36.50" rx="1.0" ry="1.55" fill="#222a5e"/>
<ellipse cx="395.80" cy="40.00" rx="1.0" ry="1.55" fill="#222a5e"/><ellipse cx="401.80" cy="40.00" rx="1.0" ry="1.55" fill="#222a5e"/>
<ellipse cx="406.30" cy="44.60" rx="1.0" ry="1.55" fill="#222a5e"/>
<ellipse cx="413.50" cy="54.40" rx="1.0" ry="1.55" fill="#222a5e"/><ellipse cx="426.00" cy="54.40" rx="1.0" ry="1.55" fill="#222a5e"/><ellipse cx="429.50" cy="54.40" rx="1.0" ry="1.55" fill="#222a5e"/><ellipse cx="431.50" cy="54.40" rx="1.0" ry="1.55" fill="#222a5e"/>
<ellipse cx="434.60" cy="61.20" rx="1.0" ry="1.55" fill="#222a5e"/><ellipse cx="442.90" cy="61.20" rx="1.0" ry="1.55" fill="#222a5e"/><ellipse cx="446.70" cy="61.20" rx="1.0" ry="1.55" fill="#222a5e"/><ellipse cx="449.60" cy="61.20" rx="1.0" ry="1.55" fill="#222a5e"/>
<ellipse cx="451.90" cy="78.80" rx="1.0" ry="1.55" fill="#222a5e"/><ellipse cx="458.00" cy="78.80" rx="1.0" ry="1.55" fill="#222a5e"/><ellipse cx="461.70" cy="78.80" rx="1.0" ry="1.55" fill="#222a5e"/><ellipse cx="473.60" cy="78.80" rx="1.0" ry="1.55" fill="#222a5e"/>
<ellipse cx="442.40" cy="15.50" rx="0.8" ry="1.24" fill="#b5b2a0"/>
<ellipse cx="51.20" cy="222.30" rx="0.9" ry="1.40" fill="#2d4f4a"/><ellipse cx="54.50" cy="222.30" rx="0.9" ry="1.40" fill="#2d4f4a"/><ellipse cx="57.50" cy="222.30" rx="0.9" ry="1.40" fill="#2d4f4a"/><ellipse cx="60.50" cy="222.30" rx="0.9" ry="1.40" fill="#2d4f4a"/><ellipse cx="63.50" cy="222.30" rx="0.9" ry="1.40" fill="#2d4f4a"/><ellipse cx="66.50" cy="222.30" rx="0.9" ry="1.40" fill="#2d4f4a"/><ellipse cx="72.00" cy="222.30" rx="0.9" ry="1.40" fill="#2d4f4a"/><ellipse cx="75.00" cy="222.30" rx="0.9" ry="1.40" fill="#2d4f4a"/>
<ellipse cx="82.00" cy="224.70" rx="0.85" ry="1.32" fill="#22602c"/><ellipse cx="85.00" cy="224.70" rx="0.85" ry="1.32" fill="#22602c"/><ellipse cx="88.00" cy="224.70" rx="0.85" ry="1.32" fill="#22602c"/><ellipse cx="91.00" cy="224.70" rx="0.85" ry="1.32" fill="#22602c"/>
<ellipse cx="96.00" cy="226.70" rx="0.85" ry="1.32" fill="#22602c"/><ellipse cx="99.00" cy="226.70" rx="0.85" ry="1.32" fill="#22602c"/><ellipse cx="102.00" cy="226.70" rx="0.85" ry="1.32" fill="#22602c"/>
<ellipse cx="109.20" cy="230.20" rx="0.9" ry="1.40" fill="#22602c"/><ellipse cx="112.10" cy="230.20" rx="0.9" ry="1.40" fill="#22602c"/><ellipse cx="113.80" cy="230.20" rx="0.9" ry="1.40" fill="#22602c"/><ellipse cx="120.80" cy="230.20" rx="0.9" ry="1.40" fill="#22602c"/><ellipse cx="124.80" cy="230.20" rx="0.9" ry="1.40" fill="#22602c"/><ellipse cx="127.10" cy="230.20" rx="0.9" ry="1.40" fill="#22602c"/><ellipse cx="129.40" cy="230.20" rx="0.9" ry="1.40" fill="#22602c"/><ellipse cx="134.60" cy="230.20" rx="0.9" ry="1.40" fill="#22602c"/><ellipse cx="136.30" cy="230.20" rx="0.9" ry="1.40" fill="#22602c"/><ellipse cx="140.90" cy="230.20" rx="0.9" ry="1.40" fill="#22602c"/><ellipse cx="143.80" cy="230.20" rx="0.9" ry="1.40" fill="#22602c"/><ellipse cx="146.10" cy="230.20" rx="0.9" ry="1.40" fill="#22602c"/><ellipse cx="148.40" cy="230.20" rx="0.9" ry="1.40" fill="#22602c"/><ellipse cx="150.70" cy="230.20" rx="0.9" ry="1.40" fill="#22602c"/><ellipse cx="152.50" cy="230.20" rx="0.9" ry="1.40" fill="#22602c"/><ellipse cx="154.80" cy="230.20" rx="0.9" ry="1.40" fill="#22602c"/><ellipse cx="157.70" cy="230.20" rx="0.9" ry="1.40" fill="#22602c"/><ellipse cx="168.30" cy="230.20" rx="0.9" ry="1.40" fill="#22602c"/><ellipse cx="173.50" cy="230.20" rx="0.9" ry="1.40" fill="#22602c"/><ellipse cx="176.30" cy="230.20" rx="0.9" ry="1.40" fill="#22602c"/><ellipse cx="179.20" cy="230.20" rx="0.9" ry="1.40" fill="#22602c"/><ellipse cx="182.70" cy="230.20" rx="0.9" ry="1.40" fill="#22602c"/><ellipse cx="188.40" cy="230.20" rx="0.9" ry="1.40" fill="#22602c"/><ellipse cx="194.80" cy="230.20" rx="0.9" ry="1.40" fill="#22602c"/><ellipse cx="200.60" cy="230.20" rx="0.9" ry="1.40" fill="#22602c"/><ellipse cx="202.30" cy="230.20" rx="0.9" ry="1.40" fill="#22602c"/><ellipse cx="205.70" cy="230.20" rx="0.9" ry="1.40" fill="#22602c"/>
<ellipse cx="78.00" cy="222.10" rx="1.0" ry="1.55" fill="#1a2462"/><ellipse cx="81.00" cy="222.10" rx="1.0" ry="1.55" fill="#1a2462"/><ellipse cx="84.00" cy="222.10" rx="1.0" ry="1.55" fill="#1a2462"/><ellipse cx="87.00" cy="222.10" rx="1.0" ry="1.55" fill="#1a2462"/><ellipse cx="90.00" cy="222.10" rx="1.0" ry="1.55" fill="#1a2462"/><ellipse cx="93.00" cy="222.10" rx="1.0" ry="1.55" fill="#1a2462"/><ellipse cx="96.00" cy="222.10" rx="1.0" ry="1.55" fill="#1a2462"/><ellipse cx="99.00" cy="222.10" rx="1.0" ry="1.55" fill="#1a2462"/><ellipse cx="102.00" cy="222.10" rx="1.0" ry="1.55" fill="#1a2462"/><ellipse cx="105.00" cy="222.10" rx="1.0" ry="1.55" fill="#1a2462"/><ellipse cx="108.00" cy="222.10" rx="1.0" ry="1.55" fill="#1a2462"/><ellipse cx="111.00" cy="222.10" rx="1.0" ry="1.55" fill="#1a2462"/><ellipse cx="114.00" cy="222.10" rx="1.0" ry="1.55" fill="#1a2462"/><ellipse cx="117.00" cy="222.10" rx="1.0" ry="1.55" fill="#1a2462"/><ellipse cx="120.00" cy="222.10" rx="1.0" ry="1.55" fill="#1a2462"/><ellipse cx="123.00" cy="222.10" rx="1.0" ry="1.55" fill="#1a2462"/><ellipse cx="126.00" cy="222.10" rx="1.0" ry="1.55" fill="#1a2462"/><ellipse cx="129.00" cy="222.10" rx="1.0" ry="1.55" fill="#1a2462"/><ellipse cx="132.00" cy="222.10" rx="1.0" ry="1.55" fill="#1a2462"/><ellipse cx="135.00" cy="222.10" rx="1.0" ry="1.55" fill="#1a2462"/><ellipse cx="138.00" cy="222.10" rx="1.0" ry="1.55" fill="#1a2462"/><ellipse cx="141.00" cy="222.10" rx="1.0" ry="1.55" fill="#1a2462"/><ellipse cx="144.00" cy="222.10" rx="1.0" ry="1.55" fill="#1a2462"/><ellipse cx="147.00" cy="222.10" rx="1.0" ry="1.55" fill="#1a2462"/><ellipse cx="150.00" cy="222.10" rx="1.0" ry="1.55" fill="#1a2462"/><ellipse cx="153.00" cy="222.10" rx="1.0" ry="1.55" fill="#1a2462"/><ellipse cx="156.00" cy="222.10" rx="1.0" ry="1.55" fill="#1a2462"/><ellipse cx="159.00" cy="222.10" rx="1.0" ry="1.55" fill="#1a2462"/><ellipse cx="162.00" cy="222.10" rx="1.0" ry="1.55" fill="#1a2462"/>
<ellipse cx="167.00" cy="223.20" rx="1.0" ry="1.55" fill="#1a2462"/><ellipse cx="170.00" cy="223.20" rx="1.0" ry="1.55" fill="#1a2462"/><ellipse cx="173.00" cy="223.20" rx="1.0" ry="1.55" fill="#1a2462"/><ellipse cx="176.00" cy="223.20" rx="1.0" ry="1.55" fill="#1a2462"/><ellipse cx="179.00" cy="223.20" rx="1.0" ry="1.55" fill="#1a2462"/><ellipse cx="182.00" cy="223.20" rx="1.0" ry="1.55" fill="#1a2462"/><ellipse cx="185.00" cy="223.20" rx="1.0" ry="1.55" fill="#1a2462"/>
<ellipse cx="189.60" cy="223.10" rx="1.0" ry="1.55" fill="#222a5e"/><ellipse cx="193.10" cy="223.10" rx="1.0" ry="1.55" fill="#222a5e"/><ellipse cx="197.90" cy="223.10" rx="1.0" ry="1.55" fill="#222a5e"/><ellipse cx="200.20" cy="223.10" rx="1.0" ry="1.55" fill="#222a5e"/><ellipse cx="203.90" cy="223.10" rx="1.0" ry="1.55" fill="#222a5e"/><ellipse cx="207.40" cy="223.10" rx="1.0" ry="1.55" fill="#222a5e"/><ellipse cx="210.60" cy="223.10" rx="1.0" ry="1.55" fill="#222a5e"/><ellipse cx="212.30" cy="223.10" rx="1.0" ry="1.55" fill="#222a5e"/><ellipse cx="214.60" cy="223.10" rx="1.0" ry="1.55" fill="#222a5e"/>
<ellipse cx="314.40" cy="222.40" rx="1.1" ry="1.71" fill="#2d4f4a"/>
<ellipse cx="330.50" cy="222.40" rx="1.0" ry="1.55" fill="#222a5e"/><ellipse cx="333.50" cy="222.40" rx="1.0" ry="1.55" fill="#222a5e"/><ellipse cx="341.60" cy="222.40" rx="1.0" ry="1.55" fill="#222a5e"/><ellipse cx="347.50" cy="222.40" rx="1.0" ry="1.55" fill="#222a5e"/><ellipse cx="350.00" cy="222.40" rx="1.0" ry="1.55" fill="#222a5e"/><ellipse cx="362.30" cy="222.40" rx="1.0" ry="1.55" fill="#222a5e"/><ellipse cx="364.90" cy="222.40" rx="1.0" ry="1.55" fill="#222a5e"/><ellipse cx="369.50" cy="222.40" rx="1.0" ry="1.55" fill="#222a5e"/>
<ellipse cx="345.00" cy="222.40" rx="1.3" ry="2.02" fill="#222a5e"/><ellipse cx="353.40" cy="222.40" rx="1.3" ry="2.02" fill="#222a5e"/><ellipse cx="358.10" cy="222.40" rx="1.3" ry="2.02" fill="#222a5e"/>
<ellipse cx="374.70" cy="224.90" rx="1.0" ry="1.55" fill="#222a5e"/><ellipse cx="376.70" cy="224.90" rx="1.0" ry="1.55" fill="#222a5e"/><ellipse cx="378.70" cy="224.90" rx="1.0" ry="1.55" fill="#222a5e"/><ellipse cx="380.80" cy="224.90" rx="1.0" ry="1.55" fill="#222a5e"/><ellipse cx="382.80" cy="224.90" rx="1.0" ry="1.55" fill="#222a5e"/><ellipse cx="384.80" cy="224.90" rx="1.0" ry="1.55" fill="#222a5e"/><ellipse cx="386.80" cy="224.90" rx="1.0" ry="1.55" fill="#222a5e"/><ellipse cx="393.60" cy="224.90" rx="1.0" ry="1.55" fill="#222a5e"/><ellipse cx="395.60" cy="224.90" rx="1.0" ry="1.55" fill="#222a5e"/><ellipse cx="398.90" cy="224.90" rx="1.0" ry="1.55" fill="#222a5e"/><ellipse cx="401.60" cy="224.90" rx="1.0" ry="1.55" fill="#222a5e"/><ellipse cx="403.60" cy="224.90" rx="1.0" ry="1.55" fill="#222a5e"/><ellipse cx="406.30" cy="224.90" rx="1.0" ry="1.55" fill="#222a5e"/><ellipse cx="408.40" cy="224.90" rx="1.0" ry="1.55" fill="#222a5e"/>
<ellipse cx="416.40" cy="230.00" rx="1.0" ry="1.55" fill="#222a5e"/><ellipse cx="419.10" cy="230.00" rx="1.0" ry="1.55" fill="#222a5e"/><ellipse cx="421.80" cy="230.00" rx="1.0" ry="1.55" fill="#222a5e"/><ellipse cx="423.80" cy="230.00" rx="1.0" ry="1.55" fill="#222a5e"/><ellipse cx="426.50" cy="230.00" rx="1.0" ry="1.55" fill="#222a5e"/><ellipse cx="428.50" cy="230.00" rx="1.0" ry="1.55" fill="#222a5e"/><ellipse cx="430.60" cy="230.00" rx="1.0" ry="1.55" fill="#222a5e"/>
<ellipse cx="434.30" cy="238.20" rx="1.0" ry="1.55" fill="#222a5e"/><ellipse cx="438.70" cy="238.20" rx="1.0" ry="1.55" fill="#222a5e"/><ellipse cx="441.50" cy="238.20" rx="1.0" ry="1.55" fill="#222a5e"/><ellipse cx="443.90" cy="238.20" rx="1.0" ry="1.55" fill="#222a5e"/><ellipse cx="447.30" cy="238.20" rx="1.0" ry="1.55" fill="#222a5e"/><ellipse cx="449.20" cy="238.20" rx="1.0" ry="1.55" fill="#222a5e"/><ellipse cx="452.60" cy="238.20" rx="1.0" ry="1.55" fill="#222a5e"/><ellipse cx="456.90" cy="238.20" rx="1.0" ry="1.55" fill="#222a5e"/><ellipse cx="461.30" cy="238.20" rx="1.0" ry="1.55" fill="#222a5e"/><ellipse cx="473.30" cy="238.20" rx="1.0" ry="1.55" fill="#222a5e"/>
<ellipse cx="336.50" cy="224.30" rx="0.9" ry="1.40" fill="#22602c"/>
<ellipse cx="346.00" cy="228.30" rx="0.9" ry="1.40" fill="#22602c"/><ellipse cx="349.00" cy="228.30" rx="0.9" ry="1.40" fill="#22602c"/><ellipse cx="351.00" cy="228.30" rx="0.9" ry="1.40" fill="#22602c"/>
<ellipse cx="362.00" cy="235.20" rx="0.9" ry="1.40" fill="#22602c"/><ellipse cx="364.50" cy="235.20" rx="0.9" ry="1.40" fill="#22602c"/>
<ellipse cx="369.50" cy="238.00" rx="0.9" ry="1.40" fill="#22602c"/><ellipse cx="372.50" cy="238.00" rx="0.9" ry="1.40" fill="#22602c"/><ellipse cx="376.00" cy="238.00" rx="0.9" ry="1.40" fill="#22602c"/>
<ellipse cx="385.00" cy="241.40" rx="0.9" ry="1.40" fill="#22602c"/><ellipse cx="388.00" cy="241.40" rx="0.9" ry="1.40" fill="#22602c"/><ellipse cx="390.00" cy="241.40" rx="0.9" ry="1.40" fill="#22602c"/>
<ellipse cx="395.00" cy="257.50" rx="0.9" ry="1.40" fill="#22602c"/><ellipse cx="398.00" cy="257.50" rx="0.9" ry="1.40" fill="#22602c"/><ellipse cx="401.00" cy="257.50" rx="0.9" ry="1.40" fill="#22602c"/><ellipse cx="403.50" cy="257.50" rx="0.9" ry="1.40" fill="#22602c"/>
<ellipse cx="406.50" cy="262.10" rx="0.9" ry="1.40" fill="#22602c"/><ellipse cx="408.50" cy="262.10" rx="0.9" ry="1.40" fill="#22602c"/>
<ellipse cx="413.90" cy="273.00" rx="0.95" ry="1.47" fill="#22602c"/><ellipse cx="418.70" cy="273.00" rx="0.95" ry="1.47" fill="#22602c"/><ellipse cx="425.90" cy="273.00" rx="0.95" ry="1.47" fill="#22602c"/><ellipse cx="429.50" cy="273.00" rx="0.95" ry="1.47" fill="#22602c"/><ellipse cx="433.90" cy="273.00" rx="0.95" ry="1.47" fill="#22602c"/><ellipse cx="438.90" cy="273.00" rx="0.95" ry="1.47" fill="#22602c"/><ellipse cx="442.50" cy="273.00" rx="0.95" ry="1.47" fill="#22602c"/><ellipse cx="446.10" cy="273.00" rx="0.95" ry="1.47" fill="#22602c"/>
<ellipse cx="451.90" cy="287.20" rx="0.95" ry="1.47" fill="#22602c"/><ellipse cx="458.40" cy="287.20" rx="0.95" ry="1.47" fill="#22602c"/><ellipse cx="466.30" cy="287.20" rx="0.95" ry="1.47" fill="#22602c"/><ellipse cx="473.50" cy="287.20" rx="0.95" ry="1.47" fill="#22602c"/>
</svg>
</body></html>
